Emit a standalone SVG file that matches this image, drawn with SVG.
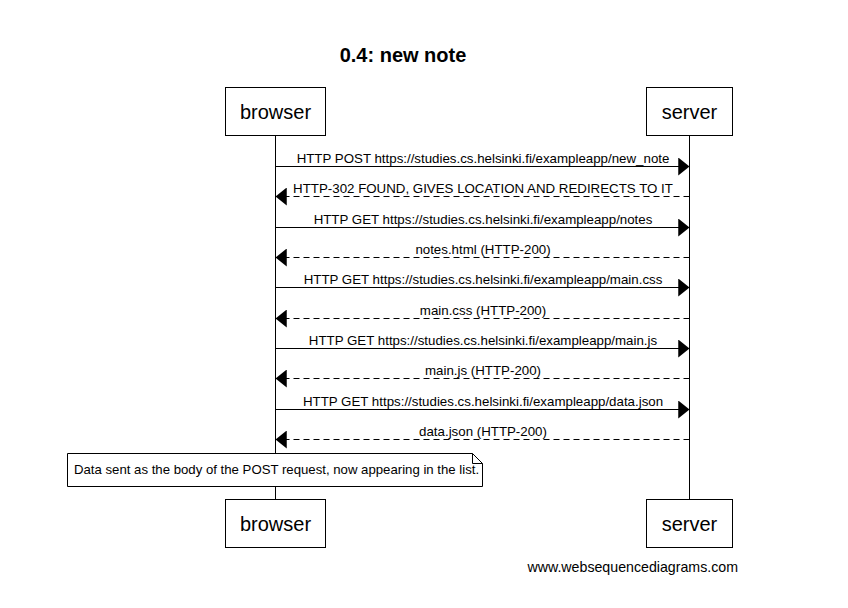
<svg xmlns="http://www.w3.org/2000/svg" width="848" height="608" viewBox="0 0 848 608">
<style>
text{font-family:"Liberation Sans",Arial,sans-serif;fill:#000}
.title{font-size:20px;font-weight:bold;text-anchor:middle}
.actor rect{fill:#fff;stroke:#000;stroke-width:1}
.actor text{font-size:20px;text-anchor:middle}
.life{stroke:#000;stroke-width:1}
.msg{stroke:#000;stroke-width:1;fill:none}
.dash{stroke-dasharray:6,4}
.lbl{font-size:13.3px;text-anchor:middle}
.note path{fill:#fff;stroke:#000;stroke-width:1}
.note text{font-size:13.2px}
.foot{font-size:14.2px;text-anchor:end}
</style>
<defs>
<marker id="ah" markerUnits="userSpaceOnUse" markerWidth="12" markerHeight="18" viewBox="0 0 10 16" refX="10" refY="8" orient="auto">
<path d="M0,0 L10,8 L0,16 Z" fill="#000"/>
</marker>
</defs>
<rect width="848" height="608" fill="#fff"/>
<text class="title" x="403" y="62">0.4: new note</text>
<g id="lifelines">
<line class="life" x1="275.5" y1="136" x2="275.5" y2="499"/>
<line class="life" x1="689.5" y1="136" x2="689.5" y2="499"/>
</g>
<g id="browser" class="actor">
<rect x="225.5" y="87.5" width="100" height="48"/>
<text x="275.5" y="119">browser</text>
</g>
<g id="server" class="actor">
<rect x="646.5" y="87.5" width="86" height="48"/>
<text x="689.5" y="119">server</text>
</g>
<g id="browser-bottom" class="actor">
<rect x="225.5" y="499.5" width="100" height="48"/>
<text x="275.5" y="531">browser</text>
</g>
<g id="server-bottom" class="actor">
<rect x="646.5" y="499.5" width="86" height="48"/>
<text x="689.5" y="531">server</text>
</g>
<g id="connectors">
<line class="msg" x1="275.5" y1="166.5" x2="689.5" y2="166.5" marker-end="url(#ah)"/>
<text class="lbl" x="483" y="163">HTTP POST https://studies.cs.helsinki.fi/exampleapp/new_note</text>
<line class="msg dash" x1="689.5" y1="196.5" x2="275.5" y2="196.5" marker-end="url(#ah)"/>
<text class="lbl" x="483" y="193">HTTP-302 FOUND, GIVES LOCATION AND REDIRECTS TO IT</text>
<line class="msg" x1="275.5" y1="227.5" x2="689.5" y2="227.5" marker-end="url(#ah)"/>
<text class="lbl" x="483" y="224">HTTP GET https://studies.cs.helsinki.fi/exampleapp/notes</text>
<line class="msg dash" x1="689.5" y1="257.5" x2="275.5" y2="257.5" marker-end="url(#ah)"/>
<text class="lbl" x="483" y="254">notes.html (HTTP-200)</text>
<line class="msg" x1="275.5" y1="287.5" x2="689.5" y2="287.5" marker-end="url(#ah)"/>
<text class="lbl" x="483" y="284">HTTP GET https://studies.cs.helsinki.fi/exampleapp/main.css</text>
<line class="msg dash" x1="689.5" y1="318.5" x2="275.5" y2="318.5" marker-end="url(#ah)"/>
<text class="lbl" x="483" y="315">main.css (HTTP-200)</text>
<line class="msg" x1="275.5" y1="348.5" x2="689.5" y2="348.5" marker-end="url(#ah)"/>
<text class="lbl" x="483" y="345">HTTP GET https://studies.cs.helsinki.fi/exampleapp/main.js</text>
<line class="msg dash" x1="689.5" y1="378.5" x2="275.5" y2="378.5" marker-end="url(#ah)"/>
<text class="lbl" x="483" y="375">main.js (HTTP-200)</text>
<line class="msg" x1="275.5" y1="409.5" x2="689.5" y2="409.5" marker-end="url(#ah)"/>
<text class="lbl" x="483" y="406">HTTP GET https://studies.cs.helsinki.fi/exampleapp/data.json</text>
<line class="msg dash" x1="689.5" y1="439.5" x2="275.5" y2="439.5" marker-end="url(#ah)"/>
<text class="lbl" x="483" y="436">data.json (HTTP-200)</text>
</g>
<g id="note" class="note">
<path d="M67.5,453.5 H472.5 L482.5,463.5 V486.5 H67.5 Z M472.5,453.5 V463.5 H482.5"/>
<text x="74" y="474">Data sent as the body of the POST request, now appearing in the list.</text>
</g>
<text class="foot" x="738" y="572">www.websequencediagrams.com</text>
</svg>
